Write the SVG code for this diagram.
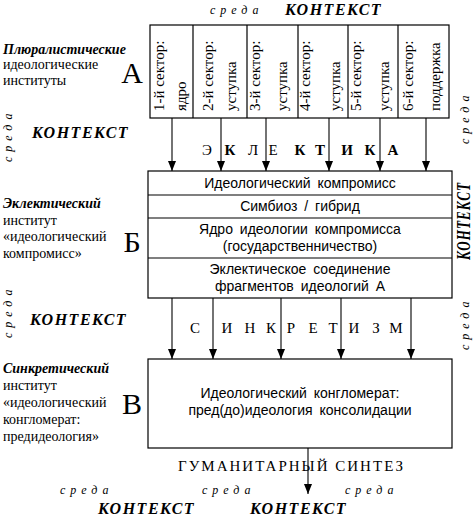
<svg xmlns="http://www.w3.org/2000/svg" width="473" height="517" viewBox="0 0 473 517">
<style>
.bg{fill:#fff}
.box{fill:#fff;stroke:#000;stroke-width:1.2}
.ln{stroke:#000;stroke-width:1.2;fill:none}
.con{stroke:#000;stroke-width:1.1;fill:none;marker-end:url(#ah)}
.serif{font-family:"Liberation Serif","Times New Roman",serif;fill:#000}
.lbl{font-family:"Liberation Serif","Times New Roman",serif;font-size:14px;fill:#000}
.lblb{font-weight:bold;font-style:italic}
.big{font-family:"Liberation Serif","Times New Roman",serif;font-size:30px;fill:#000;text-anchor:middle}
.sec{font-family:"Liberation Serif","Times New Roman",serif;font-size:15px;fill:#000}
.in{font-family:"Liberation Sans",Arial,sans-serif;font-size:14px;fill:#000;text-anchor:middle;word-spacing:3px}
.sp{font-family:"Liberation Serif","Times New Roman",serif;font-size:15px;fill:#000;text-anchor:middle}
.b{font-weight:bold}
.sreda{font-family:"Liberation Serif","Times New Roman",serif;font-size:12px;font-style:italic;fill:#000;letter-spacing:5px}
.ktx{font-family:"Liberation Serif","Times New Roman",serif;font-size:16px;font-style:italic;font-weight:bold;fill:#000;letter-spacing:1.5px}
</style>
<defs>
<marker id="ah" markerUnits="userSpaceOnUse" markerWidth="11" markerHeight="8" refX="10" refY="4" orient="auto">
<path d="M0,0 L10,4 L0,8 z" fill="#000"/>
</marker>
</defs>
<rect class="bg" x="0" y="0" width="473" height="517"/>

<!-- context words -->
<g id="context">
<text class="sreda" x="210" y="14">среда</text>
<text class="ktx" x="285" y="15">КОНТЕКСТ</text>
<text class="ktx" x="32" y="138">КОНТЕКСТ</text>
<text class="ktx" x="30" y="325">КОНТЕКСТ</text>
<text class="sreda" transform="translate(12,162) rotate(-90)">среда</text>
<text class="sreda" transform="translate(12,338) rotate(-90)">среда</text>
<text class="sreda" transform="translate(469,144) rotate(-90)">среда</text>
<text class="sreda" transform="translate(469,350) rotate(-90)">среда</text>
<text class="ktx" transform="translate(470,260) rotate(-90)" textLength="78" lengthAdjust="spacingAndGlyphs" style="font-size:18px">КОНТЕКСТ</text>
<text class="sreda" x="60" y="494">среда</text>
<text class="sreda" x="202" y="494">среда</text>
<text class="sreda" x="345" y="494">среда</text>
<text class="ktx" x="98" y="514">КОНТЕКСТ</text>
<text class="ktx" x="250" y="514">КОНТЕКСТ</text>
</g>

<!-- left labels -->
<g id="label-A">
<text class="lbl" x="3" y="54"><tspan class="lblb">Плюралистические</tspan><tspan x="3" dy="15">идеологические</tspan><tspan x="3" dy="16">институты</tspan></text>
<text class="big" x="132" y="83">А</text>
</g>
<g id="label-B">
<text class="lbl" x="3" y="208"><tspan class="lblb">Эклектический</tspan><tspan x="3" dy="16.5">институт</tspan><tspan x="3" dy="16.5">«идеологический</tspan><tspan x="3" dy="16.5">компромисс»</tspan></text>
<text class="big" x="132" y="252">Б</text>
</g>
<g id="label-C">
<text class="lbl" x="3" y="373"><tspan class="lblb">Синкретический</tspan><tspan x="3" dy="17">институт</tspan><tspan x="3" dy="17">«идеологический</tspan><tspan x="3" dy="17">конгломерат:</tspan><tspan x="3" dy="17">предидеология»</tspan></text>
<text class="big" x="132" y="414">В</text>
</g>

<!-- sectors box A -->
<g id="node-A">
<rect class="box" x="150" y="25" width="299" height="93"/>
<path class="ln" d="M193,25V118 M247,25V118 M298,25V118 M348,25V118 M398,25V118"/>
<text class="sec" transform="translate(164,111) rotate(-90)">1-й сектор:</text>
<text class="sec" transform="translate(186,111) rotate(-90)">ядро</text>
<text class="sec" transform="translate(213,111) rotate(-90)">2-й сектор:</text>
<text class="sec" transform="translate(236,111) rotate(-90)">уступка</text>
<text class="sec" transform="translate(260,111) rotate(-90)">3-й сектор:</text>
<text class="sec" transform="translate(287,111) rotate(-90)">уступка</text>
<text class="sec" transform="translate(310,111) rotate(-90)">4-й сектор:</text>
<text class="sec" transform="translate(340,111) rotate(-90)">уступка</text>
<text class="sec" transform="translate(361,111) rotate(-90)">5-й сектор:</text>
<text class="sec" transform="translate(389,111) rotate(-90)">уступка</text>
<text class="sec" transform="translate(413,111) rotate(-90)">6-й сектор:</text>
<text class="sec" transform="translate(440,111) rotate(-90)">поддержка</text>
</g>

<!-- box B -->
<g id="node-B">
<rect class="box" x="148" y="171" width="304" height="127"/>
<path class="ln" d="M148,195H452 M148,218H452 M148,258H452"/>
<text class="in" x="300" y="188">Идеологический компромисс</text>
<text class="in" x="300" y="211">Симбиоз / гибрид</text>
<text class="in" x="300" y="234">Ядро идеологии компромисса</text>
<text class="in" x="300" y="251">(государственничество)</text>
<text class="in" x="300" y="274">Эклектическое соединение</text>
<text class="in" x="300" y="291">фрагментов идеологий А</text>
</g>

<!-- box C -->
<g id="node-C">
<rect class="box" x="148" y="359" width="304" height="89"/>
<text class="in" x="300" y="398">Идеологический конгломерат:</text>
<text class="in" x="300" y="415">пред(до)идеология консолидации</text>
</g>

<!-- connectors -->
<g id="connectors">
<path class="con" d="M172,118V171"/>
<path class="con" d="M221,118V171"/>
<path class="con" d="M266,118V171"/>
<path class="con" d="M329,118V171"/>
<path class="con" d="M380,118V171"/>
<path class="con" d="M426,118V171"/>
<path class="con" d="M172,298V359"/>
<path class="con" d="M213,298V359"/>
<path class="con" d="M281,298V359"/>
<path class="con" d="M341,298V359"/>
<path class="con" d="M411,298V359"/>
<path class="con" d="M308,448V494"/>
</g>

<!-- connector labels -->
<g id="labels">
<text class="sp" y="155"><tspan x="207">Э</tspan><tspan class="b" x="230">К</tspan><tspan x="253">Л</tspan><tspan x="273">Е</tspan><tspan class="b" x="300">К</tspan><tspan class="b" x="320">Т</tspan><tspan class="b" x="347">И</tspan><tspan class="b" x="370">К</tspan><tspan class="b" x="393">А</tspan></text>
<text class="sp" y="333"><tspan x="195">С</tspan><tspan x="227">И</tspan><tspan x="250">Н</tspan><tspan x="271">К</tspan><tspan x="291">Р</tspan><tspan x="313">Е</tspan><tspan x="333">Т</tspan><tspan x="354">И</tspan><tspan x="376">З</tspan><tspan x="396">М</tspan></text>
<text class="serif" x="178" y="471" style="font-size:15px" textLength="225" lengthAdjust="spacing">ГУМАНИТАРНЫЙ СИНТЕЗ</text>
</g>
</svg>
